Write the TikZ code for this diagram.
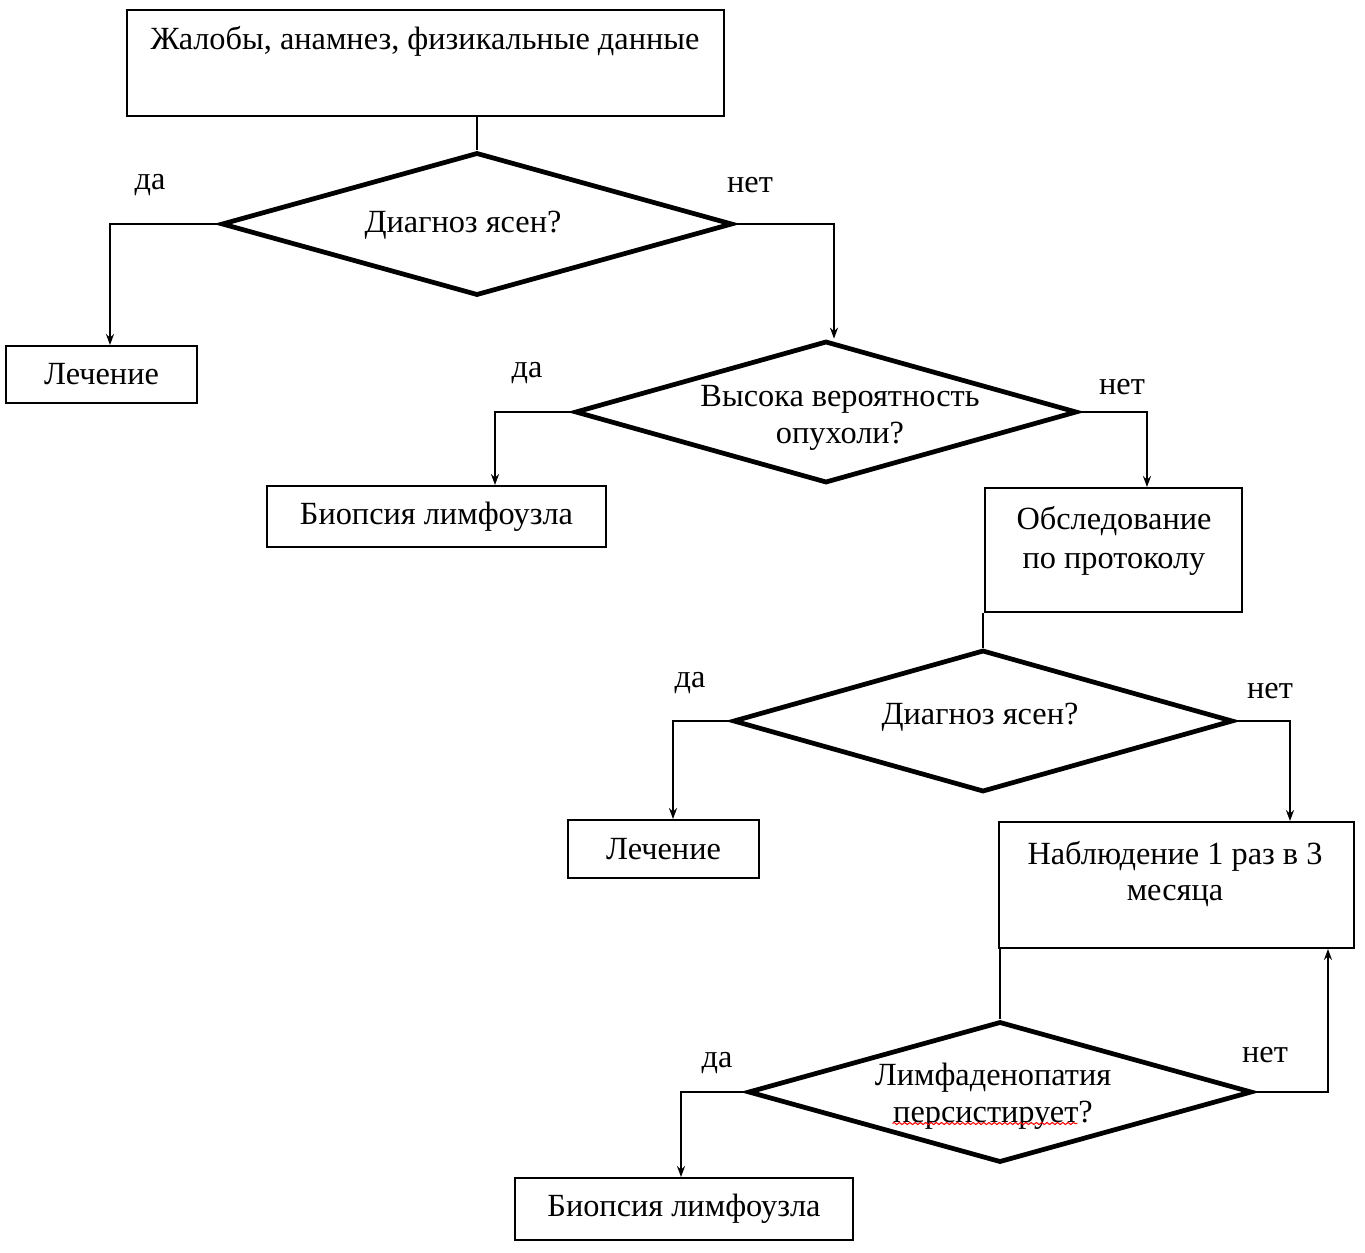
\documentclass[tikz,border=0pt]{standalone}
\usepackage{fontspec}
\setmainfont{Liberation Serif}
\usetikzlibrary{shapes.geometric,arrows.meta,decorations.pathmorphing}

\begin{document}
\begin{tikzpicture}[
    x=0.02cm, y=-0.02cm,
    every node/.style={font=\fontsize{18.4}{21}\selectfont},
    boxnode/.style={draw, line width=1.1pt, inner sep=0pt, align=center},
    decnode/.style={draw, diamond, line width=2.7pt, inner sep=0pt},
    txtnode/.style={align=center, inner sep=0pt},
    ansnode/.style={inner sep=0pt},
    conn/.style={line width=1.1pt},
    arr/.style={line width=1.1pt, -{Stealth[length=0.22cm, width=0.16cm]}}
]
\useasboundingbox (0,0) rectangle (1365,1253);

% Start
\node[boxnode, minimum width=11.94cm, minimum height=2.12cm] (b0) at (425.5,63) {};
\node[txtnode] (t0) at (425,41) {Жалобы, анамнез, физикальные данные};

% First decision
\node[decnode, minimum width=10.22cm, minimum height=2.86cm] (d1) at (477,224) {};
\node[txtnode] (t1) at (463,225) {Диагноз ясен?};
\node[boxnode, minimum width=3.82cm, minimum height=1.14cm] (lech1) at (101.5,374.5) {Лечение};

% Second decision
\node[decnode, minimum width=10.04cm, minimum height=2.84cm] (d2) at (826,412) {};
\node[txtnode] (t2) at (840,418) {Высока вероятность\\опухоли?};
\node[boxnode, minimum width=6.78cm, minimum height=1.22cm] (bio1) at (436.5,516.5) {Биопсия лимфоузла};
\node[boxnode, minimum width=5.14cm, minimum height=2.48cm] (obs) at (1113.5,550) {};
\node[txtnode, font=\fontsize{18.4}{22.5}\selectfont] (t3) at (1114,541) {Обследование\\по протоколу};

% Third decision
\node[decnode, minimum width=10cm, minimum height=2.84cm] (d3) at (983,721) {};
\node[txtnode] (t4) at (980,717) {Диагноз ясен?};
\node[boxnode, minimum width=3.82cm, minimum height=1.16cm] (lech2) at (663.5,849) {Лечение};
\node[boxnode, minimum width=7.10cm, minimum height=2.52cm] (nab) at (1176.5,885) {};
\node[txtnode] (t5) at (1175,874) {Наблюдение 1 раз в 3\\месяца};

% Fourth decision
\node[decnode, minimum width=10.08cm, minimum height=2.82cm] (d4) at (1000,1092) {};
\node[txtnode] (t6) at (993,1096) {Лимфаденопатия\\персистирует?};
\node[boxnode, minimum width=6.76cm, minimum height=1.24cm] (bio2) at (684,1209) {Биопсия лимфоузла};

% Answers
\node[ansnode] (yes1) at (150,185) {да};
\node[ansnode] (no1) at (750,185) {нет};
\node[ansnode] (yes2) at (527,373) {да};
\node[ansnode] (no2) at (1122,387) {нет};
\node[ansnode] (yes3) at (690,683) {да};
\node[ansnode] (no3) at (1270,691) {нет};
\node[ansnode] (yes4) at (717,1063) {да};
\node[ansnode] (no4) at (1265,1055) {нет};

% Connectors
\draw[conn] (b0.south -| d1.north) -- (d1.north);
\draw[arr] (d1.west) -| ([xshift=0.17cm]lech1.north);
\draw[arr] (d1.east) -| ([xshift=0.16cm]d2.north);
\draw[arr] (d2.west) -| ([xshift=1.17cm]bio1.north);
\draw[arr] (d2.east) -| ([xshift=0.67cm]obs.north);
\draw[conn] (d3.north |- obs.south) -- (d3.north);
\draw[arr] (d3.west) -| ([xshift=0.19cm]lech2.north);
\draw[arr] (d3.east) -| ([xshift=2.27cm]nab.north);
\draw[conn] (d4.north |- nab.south) -- (d4.north);
\draw[arr] (d4.west) -| ([xshift=-0.06cm]bio2.north);
\draw[arr] (d4.east) -| ([xshift=3.03cm]nab.south);

% Spelling mark
\draw[red, line width=0.6pt, decorate, decoration={snake, amplitude=0.6pt, segment length=3pt}]
    ([yshift=0.12cm]t6.south west) ++(18,0) -- ++(185,0);

\end{tikzpicture}
\end{document}
